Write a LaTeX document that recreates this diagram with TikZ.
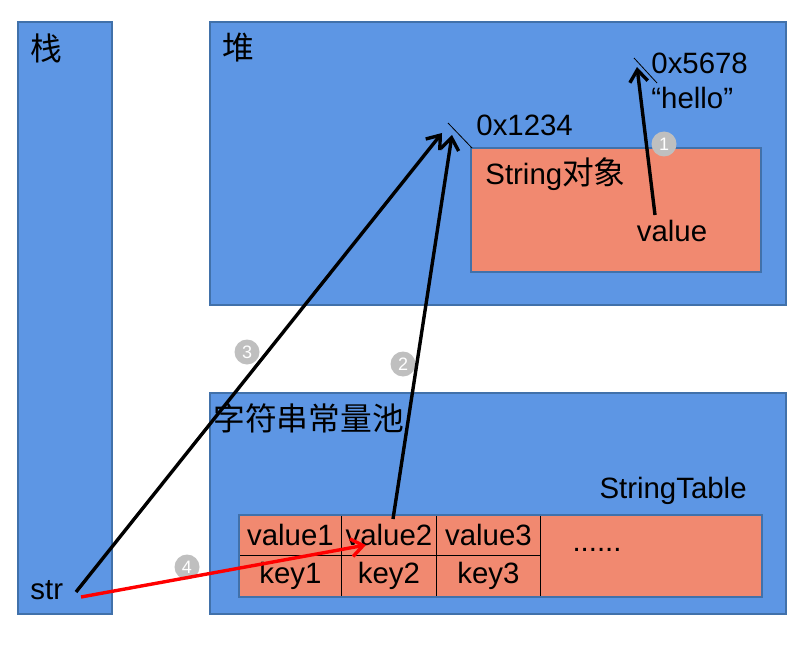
\documentclass[tikz,border=0pt]{standalone}
\usepackage{fontspec}
\setmainfont{Liberation Sans}
\newfontfamily\cjk{Noto Sans CJK SC}[Scale=1.08]
\usetikzlibrary{arrows.meta,positioning}
\definecolor{boxblue}{RGB}{93,150,228}
\definecolor{edgeblue}{RGB}{65,113,170}
\definecolor{salmon}{RGB}{241,137,112}
\definecolor{tagGray}{RGB}{191,191,191}
\begin{document}
\begin{tikzpicture}[x=0.5pt, y=-0.5pt, font=\fontsize{14.7}{17}\selectfont,
  area/.style={draw=edgeblue,fill=boxblue,line width=0.8pt},
  obj/.style={draw=edgeblue,fill=salmon,line width=0.8pt},
  cell/.style={fill=salmon,inner sep=0pt,anchor=north west,minimum height=20pt},
  ref/.style={line width=1.7pt,-{Straight Barb[length=6pt,width=9pt]}},
  tag/.style={circle,fill=tagGray,text=white,inner sep=0pt,minimum size=12.5pt,font=\fontsize{9}{10}\selectfont},
  lbl/.style={inner sep=0pt,anchor=west}]
\useasboundingbox (0,0) rectangle (812,652);
% areas
\draw[area] (18,22) rectangle (112,614);
\draw[area] (210,22) rectangle (786,305);
\draw[obj] (471,148) rectangle (761,272);
\draw[area] (210,393) rectangle (786,614);
\begin{scope}[every node/.style={lbl}]
\node (stackLbl) at (30,48) {\cjk 栈};
\node (heapLbl) at (222,48) {\cjk 堆};
\node (addrA) at (476,125) {0x1234};
\node (addrB) at (651,63) {0x5678};
\node (hello) at (651,98) {“hello”};
\node (objLbl) at (485,174) {String{\cjk 对象}};
\node (poolLbl) at (213,418) {\cjk 字符串常量池};
\node (str) at (30,590) {str};
\end{scope}
\node (val) at (672,231) {value};
\node[inner sep=0pt,anchor=east] (tableLbl) at (747,491) {StringTable};
% string table
\node[cell,minimum width=51pt] (v1) at (239,515) {value1};
\node[cell,minimum width=47.5pt] (v2) at (341,515) {value2};
\node[cell,minimum width=52pt] (v3) at (436,515) {value3};
\node[cell,minimum width=51pt,minimum height=20.5pt] (k1) at (239,555) {key1};
\node[cell,minimum width=47.5pt,minimum height=20.5pt] (k2) at (341,555) {key2};
\node[cell,minimum width=52pt,minimum height=20.5pt] (k3) at (436,555) {key3};
\node[cell,minimum width=110.5pt,minimum height=40.5pt] (more) at (540,515) {};
\node (dots) at (597,550) {......};
\draw (v1.south west) -- (v3.south east);
\draw (v1.north east) -- (k1.south east);
\draw (v2.north east) -- (k2.south east);
\draw (v3.north east) -- (k3.south east);
\draw[edgeblue,line width=0.8pt] (v1.north west) rectangle (more.south east);
% address ticks
\coordinate (tickA) at (448,123);
\coordinate (tickB) at (634,58);
\draw[thin] (tickA) -- (472,148);
\draw[thin] (tickB) -- (657,83);
% references
\coordinate (hitA3) at (442,133);
\coordinate (hitA2) at (452,135);
\coordinate (hitB) at (637,67);
\coordinate (valTop) at (655,215);
\coordinate (v2Top) at (393,519);
\coordinate (v2Hit) at (366,545);
\coordinate (str3) at (76,592);
\coordinate (str4) at (81,597);
\node[tag] (t1) at (664,144) {1};
\node[tag] (t2) at (403,364) {2};
\node[tag] (t3) at (247,352) {3};
\node[tag] (t4) at (187,567) {4};
\draw[ref] (valTop) -- (hitB);
\draw[ref] (v2Top) -- (hitA2);
\draw[ref] (str3) -- (hitA3);
\draw[ref,red] (str4) -- (v2Hit);
\end{tikzpicture}
\end{document}
